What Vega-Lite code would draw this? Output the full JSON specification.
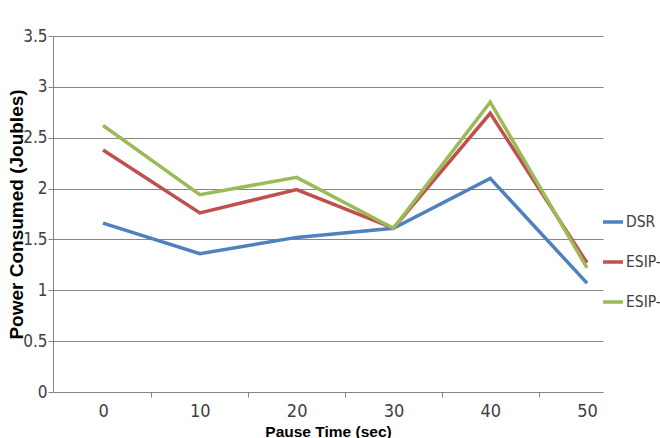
{
  "$schema": "https://vega.github.io/schema/vega-lite/v6.json",
  "width": 550,
  "height": 356,
  "autosize": {"type": "none"},
  "padding": {"left": 53, "top": 36, "right": 57, "bottom": 46},
  "background": "white",
  "config": {"view": {"stroke": null}},
  "data": {
    "values": [
      {"series": "DSR", "pause": 0, "power": 1.66},
      {"series": "DSR", "pause": 10, "power": 1.36},
      {"series": "DSR", "pause": 20, "power": 1.52},
      {"series": "DSR", "pause": 30, "power": 1.61},
      {"series": "DSR", "pause": 40, "power": 2.10},
      {"series": "DSR", "pause": 50, "power": 1.07},
      {"series": "ESIP-1", "pause": 0, "power": 2.38},
      {"series": "ESIP-1", "pause": 10, "power": 1.76},
      {"series": "ESIP-1", "pause": 20, "power": 1.99},
      {"series": "ESIP-1", "pause": 30, "power": 1.61},
      {"series": "ESIP-1", "pause": 40, "power": 2.74},
      {"series": "ESIP-1", "pause": 50, "power": 1.27},
      {"series": "ESIP-2", "pause": 0, "power": 2.62},
      {"series": "ESIP-2", "pause": 10, "power": 1.94},
      {"series": "ESIP-2", "pause": 20, "power": 2.11},
      {"series": "ESIP-2", "pause": 30, "power": 1.61},
      {"series": "ESIP-2", "pause": 40, "power": 2.85},
      {"series": "ESIP-2", "pause": 50, "power": 1.22}
    ]
  },
  "mark": {"type": "line", "strokeWidth": 3.5},
  "encoding": {
    "x": {
      "field": "pause",
      "type": "ordinal",
      "scale": {"type": "point", "padding": 0.341, "align": 0.758},
      "axis": {
        "title": "Pause Time (sec)",
        "labelAngle": 0,
        "domain": false,
        "grid": false,
        "ticks": true,
        "tickSize": 5,
        "tickColor": "#868686",
        "tickOffset": 48.4,
        "labelOffset": -48.4,
        "tickOpacity": {"condition": {"test": "datum.value == 50", "value": 0}, "value": 1},
        "labelPadding": 5,
        "labelFont": "Liberation Sans Narrow, DejaVu Sans Condensed, sans-serif",
        "labelFontSize": 18,
        "labelColor": "#404040",
        "titleFont": "Liberation Sans, Arial, sans-serif",
        "titleFontWeight": "bold",
        "titleFontSize": 15.5,
        "titleColor": "#000000",
        "titleY": 44,
        "titleBaseline": "alphabetic"
      }
    },
    "y": {
      "field": "power",
      "type": "quantitative",
      "scale": {"domain": [0, 3.5], "nice": false, "zero": true},
      "axis": {
        "title": "Power Consumed (Joubles)",
        "values": [0, 0.5, 1, 1.5, 2, 2.5, 3, 3.5],
        "format": "~g",
        "grid": true,
        "gridColor": "#868686",
        "gridWidth": 1,
        "domain": true,
        "domainColor": "#868686",
        "ticks": true,
        "tickSize": 5,
        "tickColor": "#868686",
        "labelPadding": 1,
        "labelFont": "Liberation Sans Narrow, DejaVu Sans Condensed, sans-serif",
        "labelFontSize": 17,
        "labelColor": "#404040",
        "titleFont": "Liberation Sans, Arial, sans-serif",
        "titleFontWeight": "bold",
        "titleFontSize": 19,
        "titleColor": "#000000",
        "titleAngle": -90,
        "titleX": -37,
        "titleY": 178,
        "titleBaseline": "middle"
      }
    },
    "color": {
      "field": "series",
      "type": "nominal",
      "scale": {"domain": ["DSR", "ESIP-1", "ESIP-2"], "range": ["#4F81BD", "#C0504D", "#9BBB59"]},
      "legend": {
        "title": null,
        "orient": "none",
        "legendX": 548,
        "legendY": 174,
        "padding": 0,
        "symbolType": "stroke",
        "symbolSize": 400,
        "symbolStrokeWidth": 3.5,
        "labelOffset": 1,
        "rowPadding": 19,
        "labelExpr": "slice(datum.label, 0, 5)",
        "labelFont": "Liberation Sans Narrow, DejaVu Sans Condensed, sans-serif",
        "labelFontSize": 15.5,
        "labelColor": "#404040"
      }
    }
  }
}
